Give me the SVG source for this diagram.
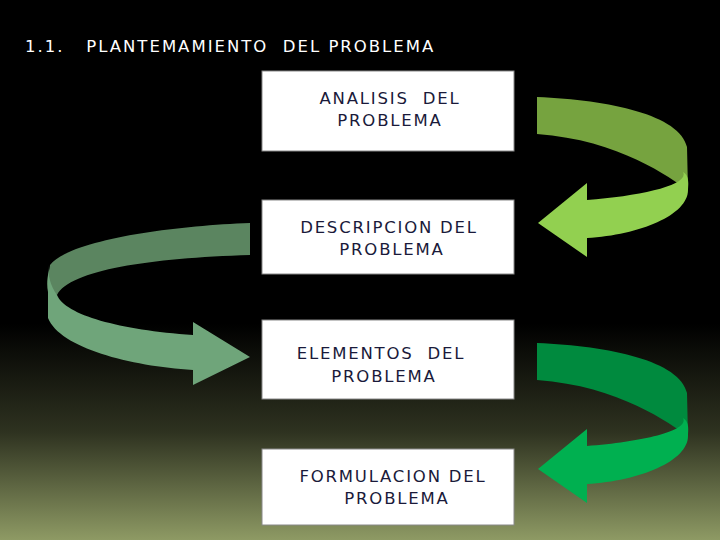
<svg xmlns="http://www.w3.org/2000/svg" width="720" height="540" viewBox="0 0 720 540" xml:space="preserve">
<defs>
<linearGradient id="bg" x1="0" y1="0" x2="0" y2="1">
<stop offset="0" stop-color="#000"/><stop offset="0.6" stop-color="#000"/><stop offset="0.8" stop-color="#2e3220"/><stop offset="1" stop-color="#8e9a64"/>
</linearGradient>
<style>
.box{fill:#fff;stroke:#888;stroke-width:1}
.t{font-family:"DejaVu Sans",Verdana,sans-serif;font-size:16.5px;letter-spacing:1.8px;fill:#1a1a3a;text-anchor:middle;white-space:pre}
</style>
</defs>
<rect width="720" height="540" fill="url(#bg)"/>
<text x="25" y="52" style="font-family:'DejaVu Sans',Verdana,sans-serif;font-size:16.5px;letter-spacing:2px;fill:#fff;white-space:pre">1.1.   PLANTEMAMIENTO  DEL PROBLEMA</text>
<g id="connectors">
<g id="arrow1">
<path d="M537,97 C610,100 680,115 687,147 L688,190 C670,178 620,140 537,134 Z" fill="#76a33f"/>
<path d="M683,172 C690,176 688,185 688,190 C688,215 640,235 587,238 L587,257 L538,223 L587,183 L587,200 C640,196 690,185 683,172 Z" fill="#92d050"/>
</g>
<g id="arrow2">
<path d="M250,223 L250,255 C150,258 70,270 57,295 L48,292 C45,280 50,270 50,265 C70,240 170,226 250,223 Z" fill="#5b8560"/>
<path d="M48,265 C48,270 48,290 48,292 L48,318 C60,348 130,366 193,370 L193,385 L250,357 L193,322 L193,335 C120,330 65,315 57,295 C50,285 48,275 48,265 Z" fill="#6fa57a"/>
</g>
<g id="arrow3">
<path d="M537,343 C610,346 680,361 687,393 L688,436 C670,424 620,386 537,380 Z" fill="#008a3e"/>
<path d="M683,418 C690,422 688,431 688,436 C688,461 640,481 587,484 L587,503 L538,469 L587,429 L587,446 C640,442 690,431 683,418 Z" fill="#00b050"/>
</g>
</g>
<g id="n1"><rect class="box" x="262" y="71" width="252" height="80"/><text class="t" x="390" y="104">ANALISIS  DEL</text><text class="t" x="390" y="126">PROBLEMA</text></g>
<g id="n2"><rect class="box" x="262" y="200" width="252" height="74"/><text class="t" x="389" y="233">DESCRIPCION DEL</text><text class="t" x="392" y="255">PROBLEMA</text></g>
<g id="n3"><rect class="box" x="262" y="320" width="252" height="79"/><text class="t" x="381" y="359">ELEMENTOS  DEL</text><text class="t" x="384" y="382">PROBLEMA</text></g>
<g id="n4"><rect class="box" x="262" y="449" width="252" height="76"/><text class="t" x="393" y="482">FORMULACION DEL</text><text class="t" x="397" y="504">PROBLEMA</text></g>
</svg>
